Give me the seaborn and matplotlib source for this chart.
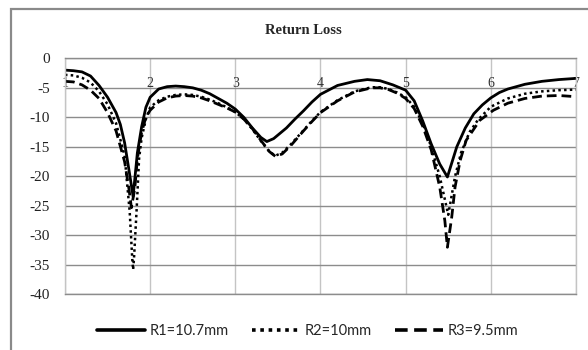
import matplotlib
matplotlib.use("Agg")
import matplotlib.pyplot as plt
import matplotlib.patches as mpatches
import seaborn as sns

# values (frequency, return loss in dB)
r1_f = [1.0, 1.1, 1.2, 1.3, 1.4, 1.5, 1.6, 1.65, 1.7, 1.75, 1.8, 1.85, 1.9, 1.95, 2.0,
        2.1, 2.2, 2.3, 2.4, 2.5, 2.6, 2.7, 2.8, 2.9, 3.0, 3.1, 3.2, 3.3, 3.37, 3.45,
        3.5, 3.6, 3.7, 3.8, 3.9, 4.0, 4.2, 4.4, 4.55, 4.7, 4.85, 5.0, 5.1, 5.2, 5.3,
        5.4, 5.49, 5.6, 5.7, 5.8, 5.9, 6.0, 6.1, 6.2, 6.4, 6.6, 6.8, 7.0]
r1_db = [-2.0, -2.1, -2.3, -3.0, -4.6, -6.6, -9.2, -11.2, -14.3, -18.8, -23.4, -16.0, -11.6, -8.3, -6.6,
         -5.2, -4.8, -4.7, -4.8, -5.0, -5.4, -6.0, -6.8, -7.6, -8.6, -10.0, -11.8, -13.4, -14.1, -13.6,
         -13.0, -11.8, -10.3, -8.9, -7.4, -6.1, -4.6, -3.9, -3.6, -3.8, -4.5, -5.4, -7.2, -10.6, -14.5,
         -17.9, -20.1, -15.0, -11.8, -9.4, -7.9, -6.7, -5.8, -5.2, -4.4, -3.9, -3.6, -3.4]

r2_f = [1.0, 1.1, 1.2, 1.3, 1.4, 1.5, 1.6, 1.7, 1.76, 1.79, 1.8, 1.81, 1.84, 1.87, 1.9,
        1.95, 2.0, 2.1, 2.2, 2.3, 2.4, 2.5, 2.6, 2.7, 2.8, 2.9, 3.0, 3.1, 3.2, 3.3,
        3.4, 3.47, 3.55, 3.65, 3.8, 3.9, 4.0, 4.2, 4.4, 4.6, 4.7, 4.8, 4.9, 5.0, 5.1,
        5.2, 5.3, 5.4, 5.5, 5.58, 5.65, 5.75, 5.85, 6.0, 6.2, 6.4, 6.6, 6.8, 7.0]
r2_db = [-2.8, -2.9, -3.3, -4.1, -5.6, -7.8, -11.0, -16.5, -26.0, -34.0, -35.8, -34.0, -26.0, -17.0, -13.5,
         -10.3, -8.3, -7.1, -6.5, -6.2, -6.1, -6.2, -6.5, -7.0, -7.6, -8.3, -9.1, -10.3, -12.0, -14.0,
         -15.8, -16.5, -16.0, -14.6, -12.2, -10.6, -9.1, -7.1, -5.6, -4.9, -4.9, -5.2, -5.8, -6.6, -8.2,
         -11.0, -15.0, -20.0, -26.5, -20.0, -16.0, -12.5, -10.4, -8.2, -6.8, -6.0, -5.6, -5.4, -5.3]

r3_f = [1.0, 1.1, 1.2, 1.3, 1.4, 1.5, 1.6, 1.7, 1.75, 1.78, 1.82, 1.85, 1.9, 1.95, 2.0,
        2.1, 2.2, 2.3, 2.4, 2.5, 2.6, 2.7, 2.8, 2.9, 3.0, 3.1, 3.2, 3.3, 3.4, 3.47,
        3.55, 3.65, 3.8, 3.9, 4.0, 4.2, 4.4, 4.6, 4.7, 4.8, 4.9, 5.0, 5.1, 5.2, 5.3,
        5.4, 5.46, 5.49, 5.54, 5.58, 5.64, 5.71, 5.87, 6.03, 6.2, 6.4, 6.6, 6.8, 7.0]
r3_db = [-3.9, -4.0, -4.5, -5.4, -6.8, -9.2, -12.3, -17.5, -22.0, -25.3, -22.0, -17.0, -12.5, -10.0, -8.8,
         -7.4, -6.7, -6.4, -6.3, -6.4, -6.7, -7.2, -7.8, -8.4, -9.1, -10.3, -11.9, -13.9, -15.8, -16.6,
         -16.2, -14.8, -12.3, -10.7, -9.2, -7.2, -5.7, -5.0, -5.0, -5.3, -5.9, -6.8, -8.5, -11.5, -15.5,
         -21.8, -27.5, -32.0, -27.0, -21.8, -17.3, -13.9, -10.5, -8.8, -7.6, -6.8, -6.4, -6.3, -6.5]

labels = ["R1=10.7mm", "R2=10mm", "R3=9.5mm"]
x_ticks = [1, 2, 3, 4, 5, 6, 7]
y_ticks = [0, -5, -10, -15, -20, -25, -30, -35, -40]

sns.set_style("white")
plt.rcParams['font.family'] = ['Liberation Serif', 'DejaVu Serif']

fig = plt.figure(figsize=(5.88, 3.5), dpi=100)
ax = fig.add_axes([0.1105, 0.1586, 0.8691, 0.6748])

# outer chart border
fig.patches.append(mpatches.Rectangle((0.018, -0.05), 1.1, 1.024, transform=fig.transFigure,
                                      fill=False, edgecolor='#8a8a8a', linewidth=1.6))

sns.lineplot(x=r1_f, y=r1_db, ax=ax, color='black', linewidth=2.0, label=labels[0],
             estimator=None)
sns.lineplot(x=r2_f, y=r2_db, ax=ax, color='black', linewidth=1.8, linestyle=(0, (1, 1.3)),
             label=labels[1], estimator=None)
sns.lineplot(x=r3_f, y=r3_db, ax=ax, color='black', linewidth=2.0, linestyle=(0, (3.5, 1.8)),
             label=labels[2], estimator=None)

ax.set_xlim(1, 7)
ax.set_ylim(-40, 0)
ax.set_xticks(x_ticks)
ax.set_yticks(y_ticks)
ax.set_yticklabels([str(v) for v in y_ticks])
ax.xaxis.tick_top()
ax.tick_params(axis='x', length=0, pad=-23, labelsize=10, labelcolor='#333333')
ax.tick_params(axis='y', length=0, pad=11, labelsize=11, labelcolor='#222222')
ax.set_xlabel("")
ax.set_ylabel("")

ax.grid(axis='y', color='#8c8c8c', linewidth=1.0)
ax.grid(axis='x', color='#c4c4c4', linewidth=1.0)
ax.set_axisbelow(True)
for side in ['top', 'bottom']:
    ax.spines[side].set_color('#8c8c8c')
    ax.spines[side].set_linewidth(1.0)
for side in ['left', 'right']:
    ax.spines[side].set_color('#c4c4c4')
    ax.spines[side].set_linewidth(1.0)

fig.text(0.516, 0.913, "Return Loss", ha='center', va='center', fontsize=10.5,
         fontweight='bold')

leg = ax.legend(loc='upper center', bbox_to_anchor=(0.475, -0.07), ncol=3, frameon=False,
                prop={'family': 'Lato', 'size': 10.5}, handlelength=3.3, handletextpad=0.3,
                columnspacing=1.6)
for line in leg.get_lines():
    line.set_linewidth(2.6)

fig.savefig("out.png", dpi=100)
